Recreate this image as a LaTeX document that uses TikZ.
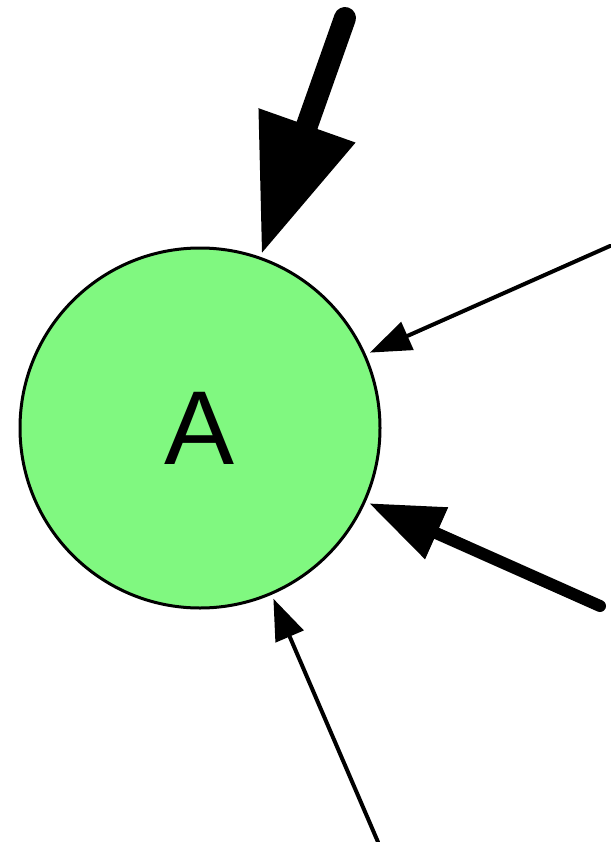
\documentclass[tikz,border=0pt]{standalone}
\usepackage{fontspec}
\setmainfont{Liberation Sans}
\usetikzlibrary{arrows.meta}
\definecolor{nodegreen}{RGB}{128,248,128}
\tikzset{
  state/.style={circle,draw,fill=nodegreen,line width=3pt,minimum size=360pt,inner sep=0pt,outer sep=6pt,font=\fontsize{105}{105}\selectfont},
  thinedge/.style={line width=4pt,line cap=round,-{Triangle[length=41pt,width=31pt,line width=0pt]}},
  midedge/.style={line width=12pt,line cap=round,-{Triangle[length=73pt,width=57pt,line width=0pt]}},
  fatedge/.style={line width=22pt,line cap=round,-{Triangle[length=135pt,width=103pt,line width=0pt]}}
}
\begin{document}
\begin{tikzpicture}[x=1pt,y=-1pt]
\useasboundingbox (0,0) rectangle (610,842);
\node[state] (A) at (200,428) {A};
\coordinate (top) at (345,18);
\coordinate (upright) at (610,246);
\coordinate (lowright) at (600,606);
\coordinate (bottom) at (378,842);
\draw[fatedge] (top)--(A);
\draw[thinedge] (upright)--(A);
\draw[midedge] (lowright)--(A);
\draw[thinedge] (bottom)--(A);
\end{tikzpicture}
\end{document}
